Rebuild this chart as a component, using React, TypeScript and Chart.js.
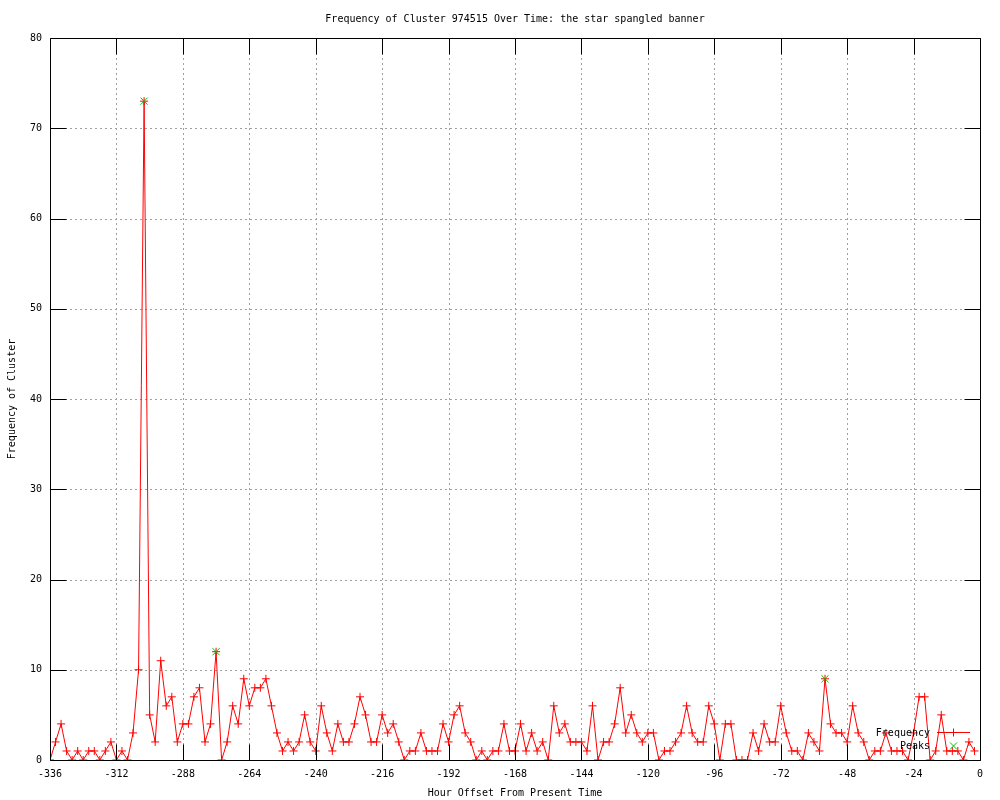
import React, { useEffect, useRef } from "react";
import { Chart, registerables } from "chart.js";

Chart.register(...registerables);

const TITLE = "Frequency of Cluster 974515 Over Time: the star spangled banner";
const X_TITLE = "Hour Offset From Present Time";
const Y_TITLE = "Frequency of Cluster";
const LEGEND_FREQ = "Frequency";
const LEGEND_PEAKS = "Peaks";

const hours = [
  -336, -334, -332, -330, -328, -326, -324, -322, -320, -318,
  -316, -314, -312, -310, -308, -306, -304, -302, -300, -298,
  -296, -294, -292, -290, -288, -286, -284, -282, -280, -278,
  -276, -274, -272, -270, -268, -266, -264, -262, -260, -258,
  -256, -254, -252, -250, -248, -246, -244, -242, -240, -238,
  -236, -234, -232, -230, -228, -226, -224, -222, -220, -218,
  -216, -214, -212, -210, -208, -206, -204, -202, -200, -198,
  -196, -194, -192, -190, -188, -186, -184, -182, -180, -178,
  -176, -174, -172, -170, -168, -166, -164, -162, -160, -158,
  -156, -154, -152, -150, -148, -146, -144, -142, -140, -138,
  -136, -134, -132, -130, -128, -126, -124, -122, -120, -118,
  -116, -114, -112, -110, -108, -106, -104, -102, -100, -98,
  -96, -94, -92, -90, -88, -86, -84, -82, -80, -78,
  -76, -74, -72, -70, -68, -66, -64, -62, -60, -58,
  -56, -54, -52, -50, -48, -46, -44, -42, -40, -38,
  -36, -34, -32, -30, -28, -26, -24, -22, -20, -18,
  -16, -14, -12, -10, -8, -6, -4, -2,
];

const frequency = [
  0, 2, 4, 1, 0, 1, 0, 1, 1, 0,
  1, 2, 0, 1, 0, 3, 10, 73, 5, 2,
  11, 6, 7, 2, 4, 4, 7, 8, 2, 4,
  12, 0, 2, 6, 4, 9, 6, 8, 8, 9,
  6, 3, 1, 2, 1, 2, 5, 2, 1, 6,
  3, 1, 4, 2, 2, 4, 7, 5, 2, 2,
  5, 3, 4, 2, 0, 1, 1, 3, 1, 1,
  1, 4, 2, 5, 6, 3, 2, 0, 1, 0,
  1, 1, 4, 1, 1, 4, 1, 3, 1, 2,
  0, 6, 3, 4, 2, 2, 2, 1, 6, 0,
  2, 2, 4, 8, 3, 5, 3, 2, 3, 3,
  0, 1, 1, 2, 3, 6, 3, 2, 2, 6,
  4, 0, 4, 4, 0, 0, 0, 3, 1, 4,
  2, 2, 6, 3, 1, 1, 0, 3, 2, 1,
  9, 4, 3, 3, 2, 6, 3, 2, 0, 1,
  1, 3, 1, 1, 1, 0, 3, 7, 7, 0,
  1, 5, 1, 1, 1, 0, 2, 1,
];

const peakHours = [-302, -276, -56];
const peakValues = [73, 12, 9];

const xTicks = [-336, -312, -288, -264, -240, -216, -192, -168, -144, -120, -96, -72, -48, -24, 0];
const yTicks = [0, 10, 20, 30, 40, 50, 60, 70, 80];

const FONT = "'DejaVu Sans Mono', 'Liberation Mono', monospace";
const RED = "#ff0000";
const GREEN = "#00c000";

const decor = {
  id: "gnuplotDecor",
  beforeDatasetsDraw(chart: any) {
    const { ctx, chartArea: a, scales } = chart;
    const x = scales.x;
    const y = scales.y;
    ctx.save();
    ctx.strokeStyle = "#a0a0a0";
    ctx.lineWidth = 1;
    ctx.setLineDash([2, 3]);
    ctx.beginPath();
    for (const v of xTicks) {
      const px = Math.round(x.getPixelForValue(v)) + 0.5;
      if (px <= a.left + 1 || px >= a.right - 1) continue;
      ctx.moveTo(px, a.top);
      ctx.lineTo(px, a.bottom);
    }
    for (const v of yTicks) {
      const py = Math.round(y.getPixelForValue(v)) + 0.5;
      if (py <= a.top + 1 || py >= a.bottom - 1) continue;
      ctx.moveTo(a.left, py);
      ctx.lineTo(a.right, py);
    }
    ctx.stroke();
    ctx.restore();
  },
  afterDatasetsDraw(chart: any) {
    const { ctx, chartArea: a, scales } = chart;
    const x = scales.x;
    const y = scales.y;
    const L = Math.round(a.left) + 0.5;
    const R = Math.round(a.right) + 0.5;
    const T = Math.round(a.top) + 0.5;
    const B = Math.round(a.bottom) + 0.5;
    const TL = 16;
    ctx.save();
    ctx.strokeStyle = "#000";
    ctx.lineWidth = 1;
    ctx.setLineDash([]);
    ctx.beginPath();
    ctx.rect(L, T, R - L, B - T);
    for (const v of xTicks) {
      const px = Math.round(x.getPixelForValue(v)) + 0.5;
      ctx.moveTo(px, B);
      ctx.lineTo(px, B - TL);
      ctx.moveTo(px, T);
      ctx.lineTo(px, T + TL);
    }
    for (const v of yTicks) {
      const py = Math.round(y.getPixelForValue(v)) + 0.5;
      ctx.moveTo(L, py);
      ctx.lineTo(L + TL, py);
      ctx.moveTo(R, py);
      ctx.lineTo(R - TL, py);
    }
    ctx.stroke();
    ctx.restore();
  },
  afterDraw(chart: any) {
    const { ctx, chartArea: a } = chart;
    const cx = (a.left + a.right) / 2;
    const cy = (a.top + a.bottom) / 2;
    ctx.save();
    ctx.fillStyle = "#000";
    ctx.font = `10px ${FONT}`;
    ctx.textAlign = "center";
    ctx.textBaseline = "middle";
    ctx.fillText(TITLE, cx, 19);
    ctx.fillText(X_TITLE, cx, 793);
    ctx.save();
    ctx.translate(12, cy);
    ctx.rotate(-Math.PI / 2);
    ctx.fillText(Y_TITLE, 0, 0);
    ctx.restore();

    // legend
    ctx.textAlign = "right";
    ctx.fillText(LEGEND_FREQ, 930, 733);
    ctx.fillText(LEGEND_PEAKS, 930, 746);
    ctx.strokeStyle = RED;
    ctx.lineWidth = 1;
    ctx.beginPath();
    ctx.moveTo(937, 732.5);
    ctx.lineTo(970, 732.5);
    ctx.moveTo(953.5, 728.5);
    ctx.lineTo(953.5, 736.5);
    ctx.stroke();
    ctx.strokeStyle = GREEN;
    ctx.beginPath();
    ctx.moveTo(950, 742.5);
    ctx.lineTo(957, 749.5);
    ctx.moveTo(957, 742.5);
    ctx.lineTo(950, 749.5);
    ctx.stroke();
    ctx.restore();
  },
};

export default function App() {
  const ref = useRef<HTMLCanvasElement | null>(null);

  useEffect(() => {
    if (!ref.current) return;
    const freqData = hours.map((h, i) => ({ x: h, y: frequency[i] }));
    const peakData = peakHours.map((h, i) => ({ x: h, y: peakValues[i] }));
    const chart = new Chart(ref.current, {
      type: "line",
      data: {
        datasets: [
          {
            label: LEGEND_PEAKS,
            data: peakData,
            showLine: false,
            pointStyle: "crossRot",
            pointRadius: 5,
            pointBorderWidth: 1,
            borderColor: GREEN,
            backgroundColor: GREEN,
            order: 0,
          },
          {
            label: LEGEND_FREQ,
            data: freqData,
            borderColor: RED,
            backgroundColor: RED,
            borderWidth: 1,
            pointStyle: "cross",
            pointRadius: 4,
            pointBorderWidth: 1,
            tension: 0,
            fill: false,
            order: 1,
          },
        ],
      },
      options: {
        responsive: false,
        animation: false,
        devicePixelRatio: 1,
        events: [],
        layout: { padding: { top: 38, right: 20, left: 0, bottom: 0 } },
        plugins: {
          legend: { display: false },
          title: { display: false },
          tooltip: { enabled: false },
        },
        scales: {
          x: {
            type: "linear",
            min: -336,
            max: 0,
            afterFit(s: any) {
              s.height = 40;
            },
            afterBuildTicks(s: any) {
              s.ticks = xTicks.map((v) => ({ value: v }));
            },
            grid: { display: false, drawTicks: false },
            border: { display: false },
            ticks: {
              autoSkip: false,
              maxRotation: 0,
              minRotation: 0,
              padding: 8,
              color: "#000",
              font: { family: FONT, size: 10 },
              callback: (v: any) => String(v),
            },
          },
          y: {
            type: "linear",
            min: 0,
            max: 80,
            afterFit(s: any) {
              s.width = 50;
            },
            afterBuildTicks(s: any) {
              s.ticks = yTicks.map((v) => ({ value: v }));
            },
            grid: { display: false, drawTicks: false },
            border: { display: false },
            ticks: {
              autoSkip: false,
              padding: 8,
              color: "#000",
              font: { family: FONT, size: 10 },
              callback: (v: any) => String(v),
            },
          },
        },
      },
      plugins: [decor],
    });
    return () => chart.destroy();
  }, []);

  return (
    <div
      style={{
        position: "absolute",
        left: 0,
        top: 0,
        width: 1000,
        height: 800,
        background: "#fff",
      }}
    >
      <canvas ref={ref} width={1000} height={800} style={{ display: "block" }} />
    </div>
  );
}
